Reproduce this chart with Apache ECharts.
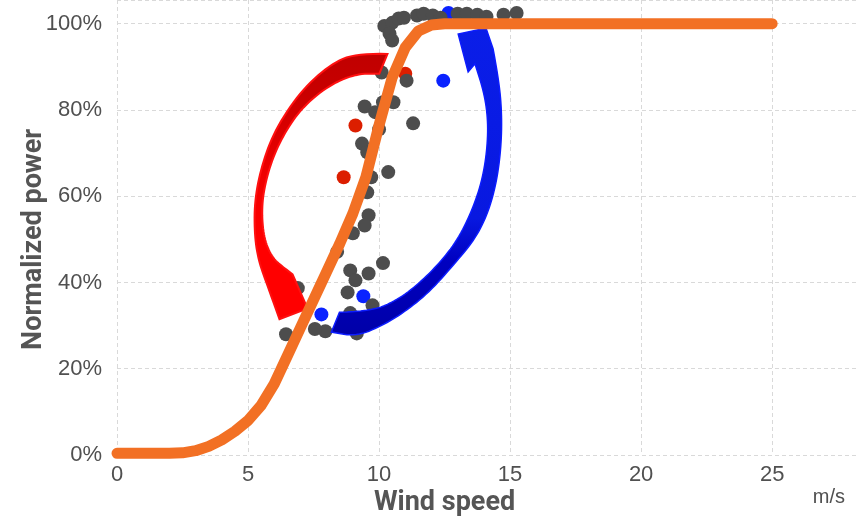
<!DOCTYPE html>
<html>
<head>
<meta charset="utf-8">
<script src="https://cdn.jsdelivr.net/npm/echarts@6/dist/echarts.min.js"></script>
<style>
  html, body { margin: 0; padding: 0; background: #ffffff; }
  #chart { width: 856px; height: 520px; }
</style>
</head>
<body>
<div id="chart"></div>
<script>
// Power curve (wind speed in m/s, normalized power in %)
const curveSpeed = [0, 0.5, 1, 1.5, 2, 2.5, 3, 3.5, 4, 4.5, 5, 5.5, 6, 6.5, 7, 7.5, 8, 8.5, 9, 9.5, 10, 10.5, 11, 11.5, 12, 12.5, 13, 25];
const curvePower = [0.4, 0.4, 0.4, 0.4, 0.4, 0.5, 1.0, 2.0, 3.5, 5.5, 8.0, 11.5, 16.5, 23.0, 29.5, 36.0, 42.5, 49.0, 56.0, 64.5, 76.5, 87.5, 94.5, 98.3, 99.7, 100, 100, 100];

// Measured operating points
const graySpeed = [10.2, 10.5, 10.75, 10.95, 10.4, 10.5, 11.45, 11.7, 12.05, 12.35, 13.0, 13.35, 13.75, 14.1, 14.75, 15.25,
  10.1, 11.05, 9.45, 9.85, 10.15, 10.55, 11.3, 10.0, 9.35, 9.55, 10.35, 9.7, 9.55, 9.6, 9.45, 9.0, 8.4, 10.15,
  8.9, 9.6, 9.1, 8.8, 9.75, 8.9, 9.15, 7.95, 7.55, 6.9, 6.45];
const grayPower = [99.5, 100.2, 101.2, 101.4, 97.7, 96.1, 101.9, 102.3, 101.9, 101.4, 102.3, 102.3, 102.1, 101.6, 102.1, 102.5,
  88.7, 86.8, 80.8, 79.5, 81.8, 81.8, 76.9, 75.5, 72.2, 70.2, 65.6, 64.4, 60.9, 55.6, 53.2, 51.4, 47.1, 44.5,
  42.8, 42.1, 40.5, 37.7, 34.7, 32.9, 28.2, 28.7, 29.2, 38.7, 28.0];
const redSpeed = [11.0, 9.1, 8.65];
const redPower = [88.4, 76.4, 64.4];
const blueSpeed = [12.65, 12.45, 9.4, 7.8];
const bluePower = [102.5, 86.8, 36.8, 32.6];

// Annotation arrow outlines, in axis units (speed, power)
const redArrowOuter = [[10.32, 93.0], [9.13, 93.2], [8.11, 90.5], [6.96, 84.0], [6.01, 75.2], [5.52, 67.1], [5.25, 59.0], [5.25, 50.9], [5.40, 45.1], [5.71, 39.8], [6.20, 31.5]];
const redArrowHead = [[7.27, 34.0]];
const redArrowInner = [[6.70, 41.9], [6.39, 43.3], [5.94, 45.6], [5.63, 49.7], [5.52, 55.5], [5.59, 61.3], [5.90, 68.3], [6.39, 74.7], [7.08, 80.7], [8.11, 85.8], [9.13, 88.4], [10.01, 88.4]];
const blueArrowInner = [[8.49, 33.1], [9.70, 33.3], [10.69, 35.9], [11.53, 39.8], [12.29, 44.4], [12.98, 49.7], [13.55, 56.7], [13.93, 63.6], [14.12, 70.6], [14.16, 77.5], [14.01, 84.0], [13.66, 90.7]];
const blueArrowHead = [[13.40, 88.8], [13.02, 97.6], [14.08, 99.0]];
const blueArrowOuter = [[14.35, 94.2], [14.58, 86.8], [14.69, 78.7], [14.65, 70.6], [14.46, 62.5], [14.12, 55.5], [13.62, 49.7], [12.86, 44.2], [11.91, 37.7], [10.96, 33.1], [10.09, 29.9], [9.13, 27.5], [8.18, 28.5]];

const pairs = (xs, ys) => xs.map((x, i) => [x, ys[i]]);

const labelFont = 'Liberation Sans';

const chart = echarts.init(document.getElementById('chart'), null, { renderer: 'canvas' });

const option = {
  animation: false,
  backgroundColor: '#ffffff',
  grid: { left: 117, right: -2, top: -1, bottom: 65, containLabel: false },
  xAxis: {
    type: 'value', min: 0, max: 28.2, interval: 5,
    axisLine: { show: false }, axisTick: { show: false },
    splitLine: { show: true, lineStyle: { color: '#d9d9d9', width: 1, type: [4, 3] } },
    axisLabel: {
      color: '#505050', fontSize: 22, fontFamily: labelFont, margin: 9, showMaxLabel: false,
      formatter: v => (v % 5 === 0 ? String(v) : '')
    }
  },
  yAxis: {
    type: 'value', min: 0, max: 105.5, interval: 20,
    axisLine: { show: false }, axisTick: { show: false },
    splitLine: { show: true, lineStyle: { color: '#d9d9d9', width: 1, type: [4, 3] } },
    axisLabel: {
      color: '#505050', fontSize: 22, fontFamily: labelFont, margin: 15, showMaxLabel: false,
      formatter: v => (v % 20 === 0 ? v + '%' : '')
    }
  },
  series: [
    {
      name: 'red', type: 'scatter', z: 2, symbolSize: 14, clip: false,
      itemStyle: { color: '#dc1e00', opacity: 1 },
      data: pairs(redSpeed, redPower)
    },
    {
      name: 'blue', type: 'scatter', z: 2, symbolSize: 14, clip: false,
      itemStyle: { color: '#0a22ff', opacity: 1 },
      data: pairs(blueSpeed, bluePower)
    },
    {
      name: 'measured', type: 'scatter', z: 2, symbolSize: 14, clip: false,
      itemStyle: { color: '#4d4d4d', opacity: 1 },
      data: pairs(graySpeed, grayPower)
    },
    {
      name: 'power curve', type: 'line', z: 4, clip: false,
      showSymbol: false, smooth: false,
      lineStyle: { color: '#f27024', width: 11, cap: 'round', join: 'round' },
      data: pairs(curveSpeed, curvePower)
    }
  ]
};

chart.setOption(option);

const toPx = p => chart.convertToPixel({ gridIndex: 0 }, p);

// Smooth an outline through midpoints with quadratic segments, sampled as polygon points
function smoothEdge(pts) {
  const out = [pts[0]];
  let start = pts[0];
  const steps = 8;
  for (let i = 1; i < pts.length - 1; i++) {
    const c = pts[i];
    const end = [(pts[i][0] + pts[i + 1][0]) / 2, (pts[i][1] + pts[i + 1][1]) / 2];
    for (let k = 1; k <= steps; k++) {
      const t = k / steps, u = 1 - t;
      out.push([u * u * start[0] + 2 * u * t * c[0] + t * t * end[0],
                u * u * start[1] + 2 * u * t * c[1] + t * t * end[1]]);
    }
    start = end;
  }
  out.push(pts[pts.length - 1]);
  return out;
}
function arrowOutline(edgeA, head, edgeB) {
  return smoothEdge(edgeA.map(toPx)).concat(head.map(toPx), smoothEdge(edgeB.map(toPx)));
}

const midX = toPx([12.5, 0])[0];
const midY = (toPx([0, 0])[1] + toPx([0, 100])[1]) / 2;

chart.setOption({
  graphic: [
    {
      type: 'polygon', id: 'redArrow', z: 3,
      shape: { points: arrowOutline(redArrowOuter, redArrowHead, redArrowInner) },
      style: {
        fill: new echarts.graphic.LinearGradient(0, 0, 0, 1, [
          { offset: 0, color: '#c00000' }, { offset: 0.15, color: '#c80000' },
          { offset: 0.45, color: '#ee0000' }, { offset: 0.7, color: '#ff0000' }, { offset: 1, color: '#ff0000' }
        ]),
        stroke: '#ff1010', lineWidth: 2, lineJoin: 'miter'
      }
    },
    {
      type: 'polygon', id: 'blueArrow', z: 3,
      shape: { points: arrowOutline(blueArrowInner, blueArrowHead, blueArrowOuter) },
      style: {
        fill: new echarts.graphic.LinearGradient(0, 0, 0, 1, [
          { offset: 0, color: '#0a1ee8' }, { offset: 0.62, color: '#0818e0' },
          { offset: 0.76, color: '#0000c0' }, { offset: 1, color: '#0000a8' }
        ]),
        stroke: '#0c1cff', lineWidth: 1.5, lineJoin: 'miter'
      }
    },
    {
      type: 'text', id: 'xTitle', z: 5, x: midX, y: 503,
      style: {
        text: 'Wind speed', fill: '#555555', font: 'bold 27px Roboto',
        textAlign: 'center', textVerticalAlign: 'middle'
      }
    },
    {
      type: 'text', id: 'yTitle', z: 5, x: 34, y: midY, rotation: Math.PI / 2,
      style: {
        text: 'Normalized power', fill: '#555555', font: 'bold 27px Roboto',
        textAlign: 'center', textVerticalAlign: 'middle'
      }
    },
    {
      type: 'text', id: 'unit', z: 5, x: 845, y: 497,
      style: {
        text: 'm/s', fill: '#505050', font: '20px "Liberation Sans"',
        textAlign: 'right', textVerticalAlign: 'middle'
      }
    }
  ]
});
</script>
</body>
</html>
